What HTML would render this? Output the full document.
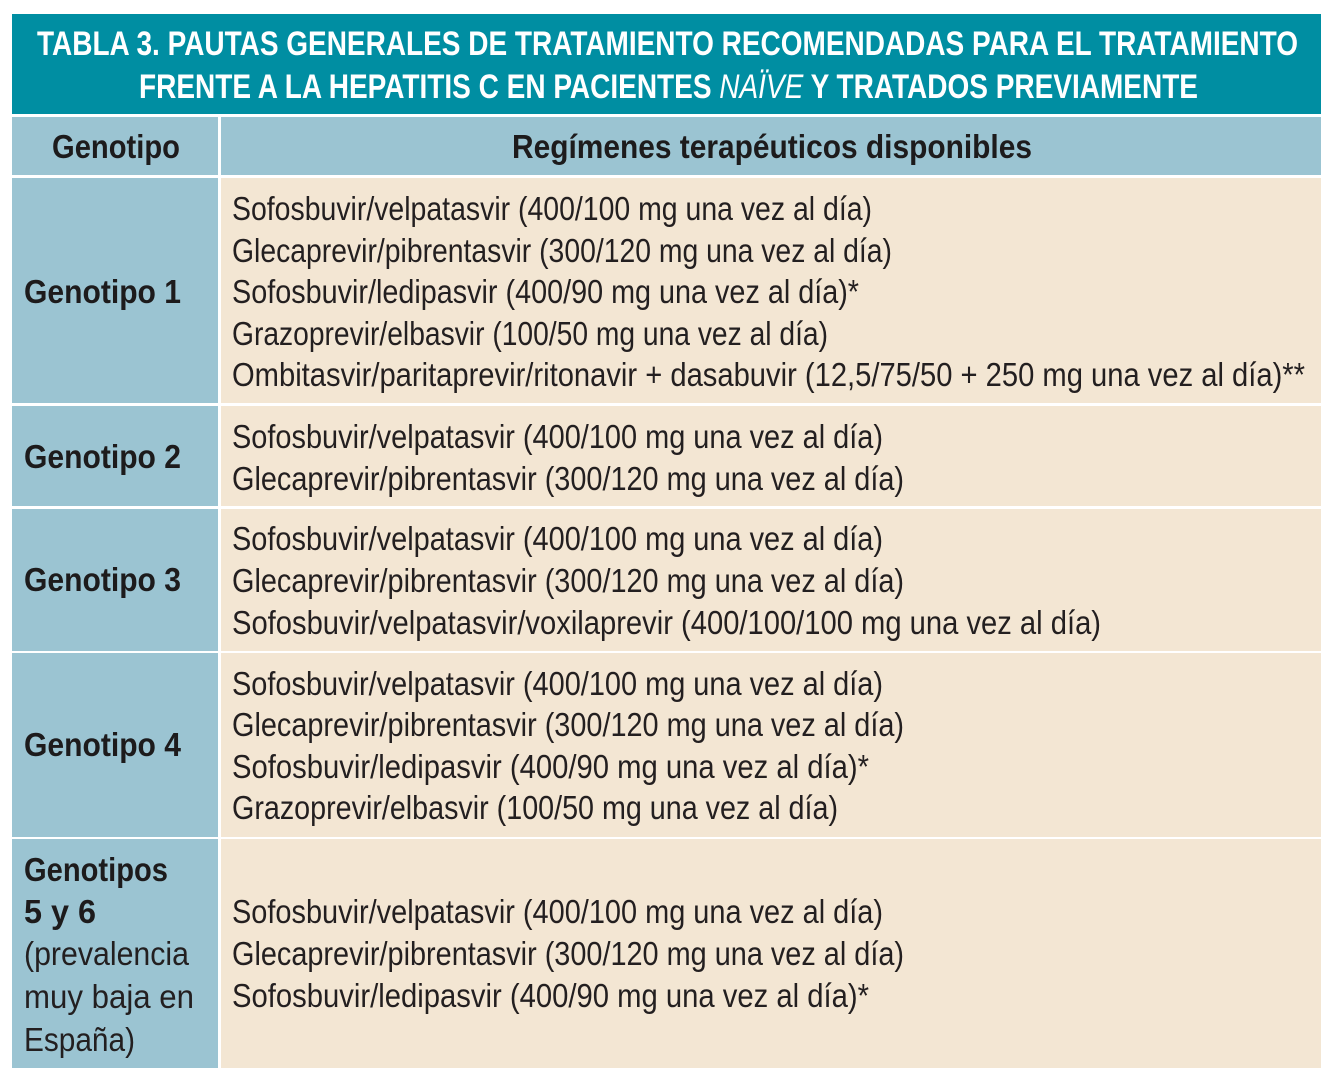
<!DOCTYPE html>
<html>
<head>
<meta charset="utf-8">
<style>
  html,body{margin:0;padding:0;background:#ffffff;}
  svg{display:block;}
  text{font-family:"Liberation Sans", Arial, sans-serif;}
  .t{font-weight:bold;font-size:34px;fill:#ffffff;}
  .h{font-weight:bold;font-size:33px;fill:#1d1b1c;}
  .r{font-size:33px;fill:#231f20;}
  .b{font-weight:bold;font-size:33px;fill:#1d1b1c;}
</style>
</head>
<body>
<svg width="1336" height="1079" viewBox="0 0 1336 1079" xmlns="http://www.w3.org/2000/svg">
  <rect x="0" y="0" width="1336" height="1079" fill="#ffffff"/>
  <!-- title -->
  <rect x="12" y="14" width="1309" height="100" fill="#008ea2"/>
  <text class="t" x="37" y="55" textLength="1261" lengthAdjust="spacingAndGlyphs">TABLA 3. PAUTAS GENERALES DE TRATAMIENTO RECOMENDADAS PARA EL TRATAMIENTO</text>
  <text class="t" x="139" y="98" textLength="1059" lengthAdjust="spacingAndGlyphs">FRENTE A LA HEPATITIS C EN PACIENTES <tspan font-weight="normal" font-style="italic">NAÏVE</tspan> Y TRATADOS PREVIAMENTE</text>

  <!-- header row -->
  <rect x="12" y="117" width="206" height="58" fill="#9bc4d2"/>
  <rect x="221" y="117" width="1100" height="58" fill="#9bc4d2"/>
  <text class="h" x="52" y="158" textLength="128" lengthAdjust="spacingAndGlyphs">Genotipo</text>
  <text class="h" x="512" y="158" textLength="520" lengthAdjust="spacingAndGlyphs">Regímenes terapéuticos disponibles</text>

  <!-- left column cells -->
  <rect x="12" y="178" width="206" height="225" fill="#9bc4d2"/>
  <rect x="12" y="406" width="206" height="100" fill="#9bc4d2"/>
  <rect x="12" y="509" width="206" height="142" fill="#9bc4d2"/>
  <rect x="12" y="653" width="206" height="184" fill="#9bc4d2"/>
  <rect x="12" y="839" width="206" height="229" fill="#9bc4d2"/>

  <!-- right column cells -->
  <rect x="221" y="178" width="1100" height="225" fill="#f3e6d3"/>
  <rect x="221" y="406" width="1100" height="100" fill="#f3e6d3"/>
  <rect x="221" y="509" width="1100" height="142" fill="#f3e6d3"/>
  <rect x="221" y="653" width="1100" height="184" fill="#f3e6d3"/>
  <rect x="221" y="839" width="1100" height="229" fill="#f3e6d3"/>

  <!-- left labels -->
  <text class="b" x="24" y="303" textLength="157" lengthAdjust="spacingAndGlyphs">Genotipo 1</text>
  <text class="b" x="24" y="468" textLength="157" lengthAdjust="spacingAndGlyphs">Genotipo 2</text>
  <text class="b" x="24" y="591" textLength="157" lengthAdjust="spacingAndGlyphs">Genotipo 3</text>
  <text class="b" x="24" y="756" textLength="157" lengthAdjust="spacingAndGlyphs">Genotipo 4</text>
  <text class="b" x="24" y="881" textLength="144" lengthAdjust="spacingAndGlyphs">Genotipos</text>
  <text class="b" x="24" y="923" textLength="72" lengthAdjust="spacingAndGlyphs">5 y 6</text>
  <text class="r" x="24" y="965" textLength="165" lengthAdjust="spacingAndGlyphs">(prevalencia</text>
  <text class="r" x="24" y="1008" textLength="170" lengthAdjust="spacingAndGlyphs">muy baja en</text>
  <text class="r" x="24" y="1051" textLength="111" lengthAdjust="spacingAndGlyphs">España)</text>

  <!-- row 1 -->
  <text class="r" x="232" y="220" textLength="640" lengthAdjust="spacingAndGlyphs">Sofosbuvir/velpatasvir (400/100 mg una vez al día)</text>
  <text class="r" x="232" y="262" textLength="660" lengthAdjust="spacingAndGlyphs">Glecaprevir/pibrentasvir (300/120 mg una vez al día)</text>
  <text class="r" x="232" y="303" textLength="627" lengthAdjust="spacingAndGlyphs">Sofosbuvir/ledipasvir (400/90 mg una vez al día)*</text>
  <text class="r" x="232" y="345" textLength="596" lengthAdjust="spacingAndGlyphs">Grazoprevir/elbasvir (100/50 mg una vez al día)</text>
  <text class="r" x="232" y="386" textLength="1073" lengthAdjust="spacingAndGlyphs">Ombitasvir/paritaprevir/ritonavir + dasabuvir (12,5/75/50 + 250 mg una vez al día)**</text>

  <!-- row 2 -->
  <text class="r" x="232" y="448" textLength="651" lengthAdjust="spacingAndGlyphs">Sofosbuvir/velpatasvir (400/100 mg una vez al día)</text>
  <text class="r" x="232" y="490" textLength="672" lengthAdjust="spacingAndGlyphs">Glecaprevir/pibrentasvir (300/120 mg una vez al día)</text>

  <!-- row 3 -->
  <text class="r" x="232" y="550" textLength="651" lengthAdjust="spacingAndGlyphs">Sofosbuvir/velpatasvir (400/100 mg una vez al día)</text>
  <text class="r" x="232" y="592" textLength="672" lengthAdjust="spacingAndGlyphs">Glecaprevir/pibrentasvir (300/120 mg una vez al día)</text>
  <text class="r" x="232" y="634" textLength="869" lengthAdjust="spacingAndGlyphs">Sofosbuvir/velpatasvir/voxilaprevir (400/100/100 mg una vez al día)</text>

  <!-- row 4 -->
  <text class="r" x="232" y="695" textLength="651" lengthAdjust="spacingAndGlyphs">Sofosbuvir/velpatasvir (400/100 mg una vez al día)</text>
  <text class="r" x="232" y="736" textLength="672" lengthAdjust="spacingAndGlyphs">Glecaprevir/pibrentasvir (300/120 mg una vez al día)</text>
  <text class="r" x="232" y="778" textLength="637" lengthAdjust="spacingAndGlyphs">Sofosbuvir/ledipasvir (400/90 mg una vez al día)*</text>
  <text class="r" x="232" y="819" textLength="606" lengthAdjust="spacingAndGlyphs">Grazoprevir/elbasvir (100/50 mg una vez al día)</text>

  <!-- row 5 -->
  <text class="r" x="232" y="923" textLength="651" lengthAdjust="spacingAndGlyphs">Sofosbuvir/velpatasvir (400/100 mg una vez al día)</text>
  <text class="r" x="232" y="965" textLength="672" lengthAdjust="spacingAndGlyphs">Glecaprevir/pibrentasvir (300/120 mg una vez al día)</text>
  <text class="r" x="232" y="1007" textLength="637" lengthAdjust="spacingAndGlyphs">Sofosbuvir/ledipasvir (400/90 mg una vez al día)*</text>
</svg>
</body>
</html>
